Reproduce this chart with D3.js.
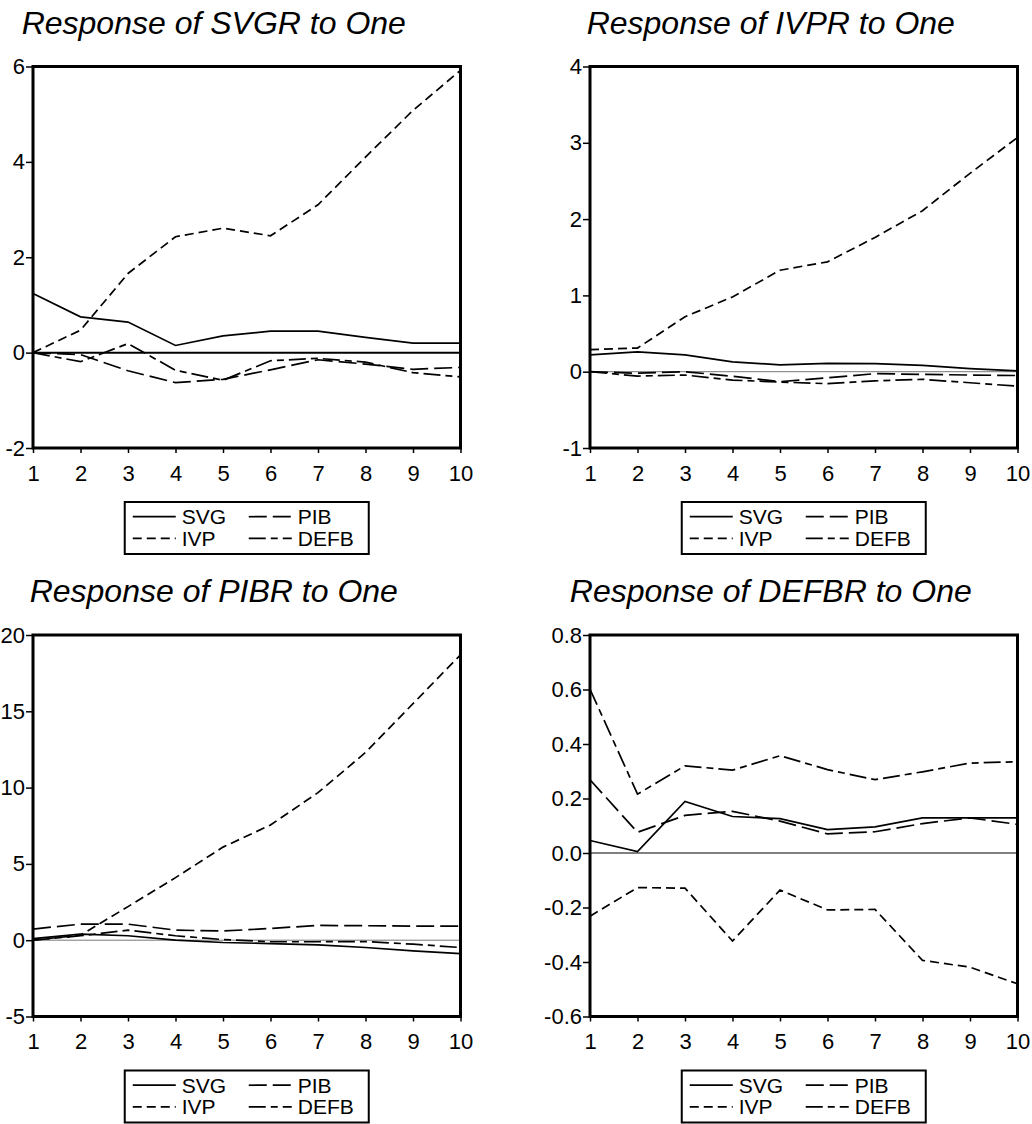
<!DOCTYPE html>
<html>
<head>
<meta charset="utf-8">
<title>Impulse responses</title>
<script src="https://d3js.org/d3.v7.min.js"></script>
<style>
  body { margin: 0; background: #fff; }
  text { font-family: "Liberation Sans", Arial, sans-serif; fill: #000; }
  .title { font-style: italic; font-size: 32px; }
  .tick text { font-size: 22px; }
  .legend text { font-size: 21px; }
</style>
</head>
<body>
<svg id="chart" width="1032" height="1124"></svg>
<script>
var periods = [1, 2, 3, 4, 5, 6, 7, 8, 9, 10];
var seriesNames = ["SVG", "PIB", "IVP", "DEFB"];
var titles = ["Response of SVGR to One", "Response of IVPR to One",
              "Response of PIBR to One", "Response of DEFBR to One"];
var yDomains = [[-2, 6], [-1, 4], [-5, 20], [-0.6, 0.8]];
var yTicks = [[-2, 0, 2, 4, 6], [-1, 0, 1, 2, 3, 4],
              [-5, 0, 5, 10, 15, 20], [-0.6, -0.4, -0.2, 0, 0.2, 0.4, 0.6, 0.8]];
var tickDecimals = [0, 0, 0, 1];

// response of SVGR
var svgrSVG  = [1.24, 0.75, 0.64, 0.15, 0.35, 0.45, 0.45, 0.32, 0.20, 0.20];
var svgrPIB  = [0, -0.04, -0.38, -0.63, -0.56, -0.36, -0.15, -0.24, -0.35, -0.31];
var svgrIVP  = [0, 0.47, 1.66, 2.43, 2.61, 2.45, 3.10, 4.10, 5.08, 5.92];
var svgrDEFB = [0, -0.19, 0.19, -0.37, -0.58, -0.17, -0.12, -0.20, -0.42, -0.51];
// response of IVPR
var ivprSVG  = [0.22, 0.26, 0.22, 0.13, 0.09, 0.11, 0.105, 0.083, 0.04, 0.01];
var ivprPIB  = [0, -0.02, 0, -0.06, -0.13, -0.08, -0.026, -0.035, -0.044, -0.05];
var ivprIVP  = [0.29, 0.31, 0.72, 0.98, 1.33, 1.44, 1.76, 2.11, 2.60, 3.07];
var ivprDEFB = [0, -0.057, -0.044, -0.11, -0.135, -0.157, -0.12, -0.10, -0.145, -0.19];
// response of PIBR
var pibrSVG  = [0.10, 0.40, 0.29, 0, -0.15, -0.22, -0.30, -0.48, -0.70, -0.88];
var pibrPIB  = [0.73, 1.05, 1.05, 0.66, 0.60, 0.77, 0.97, 0.95, 0.92, 0.92];
var pibrIVP  = [0, 0.33, 2.20, 4.10, 6.10, 7.55, 9.67, 12.3, 15.5, 18.7];
var pibrDEFB = [0, 0.29, 0.66, 0.29, 0.04, -0.10, -0.10, -0.09, -0.26, -0.48];
// response of DEFBR
var defbrSVG  = [0.046, 0.005, 0.189, 0.134, 0.126, 0.086, 0.096, 0.129, 0.129, 0.129];
var defbrPIB  = [0.269, 0.076, 0.138, 0.153, 0.117, 0.070, 0.078, 0.108, 0.129, 0.105];
var defbrIVP  = [-0.232, -0.127, -0.129, -0.323, -0.136, -0.209, -0.207, -0.394, -0.419, -0.48];
var defbrDEFB = [0.601, 0.216, 0.320, 0.304, 0.357, 0.306, 0.269, 0.298, 0.330, 0.335];

var panelSeries = [
  [svgrSVG, svgrPIB, svgrIVP, svgrDEFB],
  [ivprSVG, ivprPIB, ivprIVP, ivprDEFB],
  [pibrSVG, pibrPIB, pibrIVP, pibrDEFB],
  [defbrSVG, defbrPIB, defbrIVP, defbrDEFB]
];

// line styles per series (SVG, PIB, IVP, DEFB)
var dashes = [null, "18,6", "9,5", "17,5,7,5"];
var zeroWidth = [2, 1, 1, 1];
var zeroColor = ["#000", "#777", "#777", "#000"];

var colX = [33, 590];
var rowY = [66.5, 635];
var w = 427.5;
var h = 381.5;

var svg = d3.select("#chart");

panelSeries.forEach(function(series, p) {
  var left = colX[p % 2], top = rowY[Math.floor(p / 2)];
  var g = svg.append("g").attr("transform", "translate(" + left + "," + top + ")");

  var x = d3.scaleLinear().domain([1, 10]).range([0, w]);
  var y = d3.scaleLinear().domain(yDomains[p]).range([h, 0]);

  g.append("text")
    .attr("class", "title")
    .attr("x", w / 2 - 33)
    .attr("y", -33)
    .attr("text-anchor", "middle")
    .text(titles[p]);

  var dec = tickDecimals[p];
  var yAxis = g.append("g")
    .call(d3.axisLeft(y).tickValues(yTicks[p]).tickSize(7).tickPadding(1)
      .tickFormat(function(d) { return d.toFixed(dec); }));
  yAxis.select(".domain").remove();
  yAxis.selectAll("line").attr("stroke-width", 1.5);

  var xAxis = g.append("g")
    .attr("transform", "translate(0," + h + ")")
    .call(d3.axisBottom(x).tickValues(periods).tickSize(5).tickPadding(12)
      .tickFormat(d3.format("d")));
  xAxis.select(".domain").remove();
  xAxis.selectAll("line").attr("stroke-width", 1.5);

  g.append("line")
    .attr("x1", 0).attr("x2", w)
    .attr("y1", y(0)).attr("y2", y(0))
    .attr("stroke", zeroColor[p])
    .attr("stroke-width", zeroWidth[p]);

  var line = d3.line()
    .x(function(d, i) { return x(periods[i]); })
    .y(function(d) { return y(d); });

  series.forEach(function(vals, s) {
    g.append("path")
      .datum(vals)
      .attr("d", line)
      .attr("fill", "none")
      .attr("stroke", "#000")
      .attr("stroke-width", 1.7)
      .attr("stroke-dasharray", dashes[s]);
  });

  g.append("rect")
    .attr("x", 0).attr("y", 0)
    .attr("width", w).attr("height", h)
    .attr("fill", "none")
    .attr("stroke", "#000")
    .attr("stroke-width", 3);

  // legend
  var lg = g.append("g")
    .attr("class", "legend")
    .attr("transform", "translate(" + (w / 2 - 122) + "," + (h + 54) + ")");
  lg.append("rect")
    .attr("width", 244).attr("height", 52)
    .attr("fill", "none").attr("stroke", "#000").attr("stroke-width", 2);
  seriesNames.forEach(function(name, s) {
    var cx = (s % 2) * 116, cy = Math.floor(s / 2) * 21.7 + 14.7;
    lg.append("line")
      .attr("x1", cx + 8).attr("x2", cx + 51)
      .attr("y1", cy).attr("y2", cy)
      .attr("stroke", "#000").attr("stroke-width", 1.7)
      .attr("stroke-dasharray", dashes[s]);
    lg.append("text")
      .attr("x", cx + 57).attr("y", cy)
      .attr("dy", "0.36em")
      .text(name);
  });
});
</script>
</body>
</html>
